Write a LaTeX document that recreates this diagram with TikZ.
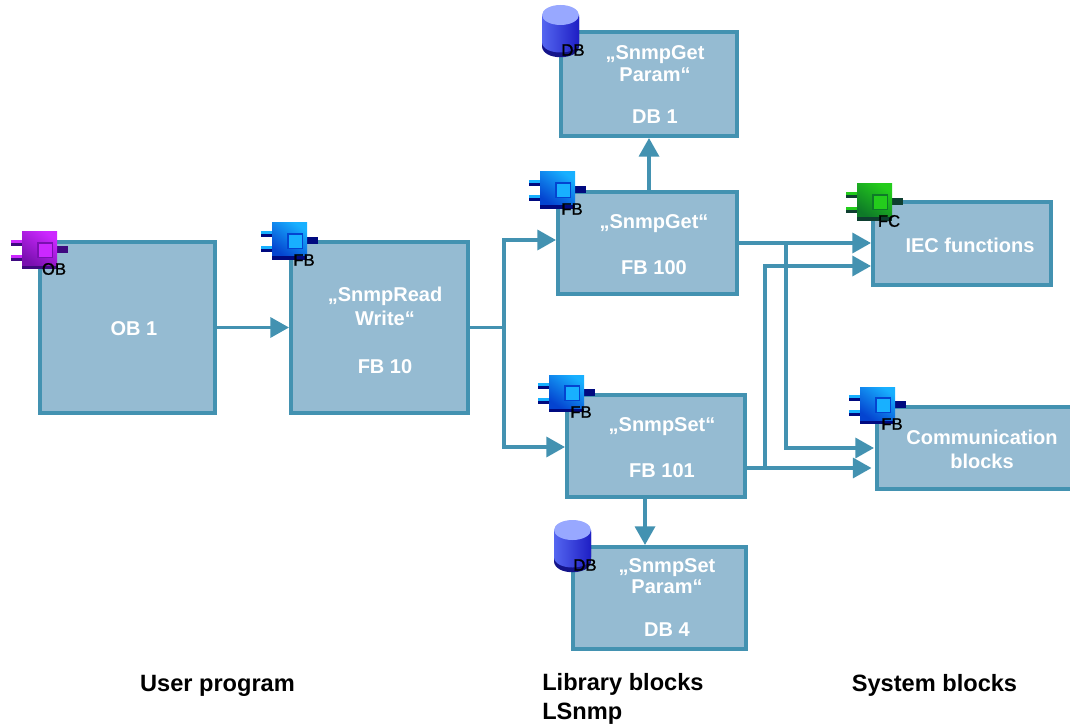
\documentclass[tikz,border=0pt]{standalone}
\usepackage{fontspec}
\setmainfont{Liberation Sans}
\newfontfamily\tagfont[FakeBold=1.2]{Liberation Sans}
\usetikzlibrary{arrows.meta}

\definecolor{boxfill}{HTML}{95BBD2}
\definecolor{boxline}{HTML}{4392B1}
\definecolor{oblight}{HTML}{CC28FF}
\definecolor{obmid}{HTML}{7A10B0}
\definecolor{obdark}{HTML}{3F0A80}
\definecolor{fblight}{HTML}{18B0FF}
\definecolor{fbmid}{HTML}{0444D0}
\definecolor{fbdark}{HTML}{000A80}
\definecolor{fclight}{HTML}{24CC1C}
\definecolor{fcmid}{HTML}{0E7A28}
\definecolor{fcdark}{HTML}{0E3F30}
\definecolor{dbtop}{HTML}{98A8FF}
\definecolor{dbleft}{HTML}{5466F0}
\definecolor{dbright}{HTML}{1E1EC4}
\definecolor{dbbase}{HTML}{14148A}

\tikzset{
  block/.style 2 args={draw=boxline, fill=boxfill, line width=3pt, inner sep=0pt,
    minimum width=#1*0.75pt, minimum height=#2*0.75pt},
  blocktext/.style={text=white, align=center, inner sep=0pt,
    font=\fontsize{15}{18}\selectfont\bfseries},
  blocktight/.style={blocktext, font=\fontsize{15}{16}\selectfont\bfseries},
  caption/.style={text=black, align=left, inner sep=0pt,
    font=\fontsize{17.7}{21.75}\selectfont\bfseries},
  tag/.style={text=black, inner sep=0pt, font=\fontsize{12.5}{14}\selectfont\tagfont},
  conn/.style={draw=boxline, line width=2.6pt},
  arrow/.style={conn, -{Triangle[length=14pt,width=15pt]}}
}

% #1 name, #2 position of the body, #3 light, #4 mid, #5 dark, #6 tag
\newcommand{\fbicon}[6]{
  \begin{scope}[shift={#2}]
    \fill[#5] (-11,8) rectangle (1,14);
    \fill[#5] (-11,23) rectangle (1,29);
    \fill[#3] (-11,8) rectangle (1,11);
    \fill[#3] (-11,23) rectangle (1,26);
    \fill[#5] (34,14) rectangle (46,21);
    \fill[#5] (0,31) rectangle (35,37);
    \shade[top color=#3, bottom color=#4, shading angle=-35] (0,0) rectangle (35,33);
    \fill[#4] (15,10) rectangle (31,26);
    \fill[#3] (17,12) rectangle (30,25);
    \node[tag] (#1) at (32,37) {#6};
  \end{scope}
}

% #1 name, #2 position of the top left corner
\newcommand{\dbicon}[2]{
  \begin{scope}[shift={#2}]
    \fill[dbbase] (0,12) -- (0,41) .. controls (0,56) and (37,56) .. (37,41) -- (37,12) -- cycle;
    \shade[left color=dbleft, right color=dbright] (0,10) -- (0,37) .. controls (0,51) and (37,51) .. (37,37) -- (37,10) -- cycle;
    \fill[dbtop] (18.5,10) ellipse [x radius=18.5, y radius=10];
    \node[tag] (#1) at (31,45) {DB};
  \end{scope}
}

\begin{document}
\begin{tikzpicture}[x=0.75pt, y=-0.75pt]
\useasboundingbox (0,0) rectangle (1070,727);
\clip (0,0) rectangle (1070,727);

\node[block={175}{171}] (obone) at (127.5,327.5) {};
\node[block={177}{171}] (fbrw) at (379.5,327.5) {};
\node[block={176}{104}] (dbget) at (649,84) {};
\node[block={179}{102}] (fbget) at (647.5,243) {};
\node[block={178}{102}] (fbset) at (656,446) {};
\node[block={173}{102}] (dbset) at (659.5,598) {};
\node[block={178}{83}] (iec) at (962,243.5) {};
\node[block={206}{82}] (comm) at (980,448) {};

\node[blocktext] (oboneText) at (134,329) {OB 1};
\node[blocktext] (fbrwText) at (385,330) {„SnmpRead\\Write“\\[18pt]FB 10};
\node[blocktight] (dbgetText) at (655,85) {„SnmpGet\\Param“\\[16pt]DB 1};
\node[blocktext] (fbgetText) at (654,245) {„SnmpGet“\\[16.5pt]FB 100};
\node[blocktext] (fbsetText) at (662,448) {„SnmpSet“\\[16.5pt]FB 101};
\node[blocktight] (dbsetText) at (667,597.5) {„SnmpSet\\Param“\\[16pt]DB 4};
\node[blocktext] (iecText) at (970,245) {IEC functions};
\node[blocktext] (commText) at (982,449) {Communication\\blocks};

\fbicon{obTag}{(22,232)}{oblight}{obmid}{obdark}{OB}
\fbicon{fbrwTag}{(272,223)}{fblight}{fbmid}{fbdark}{FB}
\fbicon{fbgetTag}{(540,172)}{fblight}{fbmid}{fbdark}{FB}
\fbicon{fbsetTag}{(549,375)}{fblight}{fbmid}{fbdark}{FB}
\fbicon{fcTag}{(857,184)}{fclight}{fcmid}{fcdark}{FC}
\fbicon{commTag}{(860,387)}{fblight}{fbmid}{fbdark}{FB}
\dbicon{dbgetTag}{(542,5)}
\dbicon{dbsetTag}{(554,520)}

\coordinate (jrw) at (504,327.5);
\coordinate (inget) at (556,240);
\coordinate (inset) at (565,447);
\coordinate (jget) at (786,243);
\coordinate (jset) at (765,468);
\coordinate (tipiec) at (871,266);
\coordinate (tipcomm) at (874,448);
\coordinate (tipcommb) at (871.5,468);
\coordinate (outset) at (645,499);

\draw[arrow] (obone.east) -- (fbrw.west);
\draw[conn] (fbrw.east) -- (jrw);
\draw[arrow] (jrw) |- (inget);
\draw[arrow] (jrw) |- (inset);
\draw[arrow] (fbget.north -| dbget) -- (dbget.south);
\draw[arrow] (outset |- fbset.south) -- (outset |- dbset.north);
\draw[arrow] (fbget.east) -- (fbget.east -| iec.west);
\draw[arrow] (jget) |- (tipcomm);
\draw[arrow] (fbset.east |- jset) -- (tipcommb);
\draw[arrow] (jset) |- (tipiec);

\node[caption, anchor=center] (usercap) at (217.5,686) {User program};
\node[caption, anchor=west] (libcap) at (542,699) {Library blocks\\LSnmp};
\node[caption, anchor=center] (syscap) at (934.5,685) {System blocks};
\end{tikzpicture}
\end{document}
